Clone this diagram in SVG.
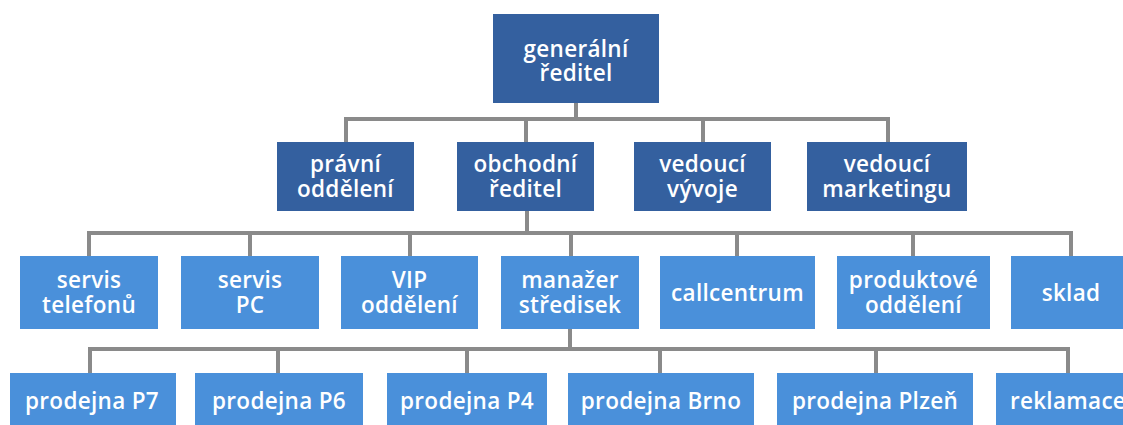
<svg xmlns="http://www.w3.org/2000/svg" width="1123" height="425" viewBox="0 0 1123 425">
<style>
.d{fill:#34609f}
.l{fill:#4a90da}
.t{fill:#ffffff;font-family:"Open Sans","DejaVu Sans",sans-serif;font-size:22.5px;font-weight:600;text-anchor:middle;letter-spacing:0.3px}
.c{fill:none;stroke:#8a8a8a;stroke-width:4}
</style>
<rect width="1123" height="425" fill="#ffffff"/>
<g id="connectors" class="c">
<path d="M576 103V119M346 142V119H888V142M526 119V142M703 119V142"/>
<path d="M527 211V233M89 256V233H1071V256M250 233V256M410 233V256M571 233V256M737 233V256M913 233V256"/>
<path d="M570 329V349M90 373V349H1068V373M278 349V373M467 349V373M660 349V373M876 349V373"/>
</g>
<g id="n-generalni"><rect class="d" x="493" y="14" width="166" height="89"/><text class="t"><tspan x="576" y="57">generální</tspan><tspan x="576" y="81">ředitel</tspan></text></g>
<g id="n-pravni"><rect class="d" x="277" y="142" width="137" height="69"/><text class="t"><tspan x="345.5" y="172">právní</tspan><tspan x="345.5" y="197">oddělení</tspan></text></g>
<g id="n-obchodni"><rect class="d" x="457" y="142" width="137" height="69"/><text class="t"><tspan x="525.5" y="172">obchodní</tspan><tspan x="525.5" y="197">ředitel</tspan></text></g>
<g id="n-vyvoj"><rect class="d" x="634" y="142" width="137" height="69"/><text class="t"><tspan x="702.5" y="172">vedoucí</tspan><tspan x="702.5" y="197">vývoje</tspan></text></g>
<g id="n-marketing"><rect class="d" x="807" y="142" width="160" height="69"/><text class="t"><tspan x="887" y="172">vedoucí</tspan><tspan x="887" y="197">marketingu</tspan></text></g>
<g id="n-servis-tel"><rect class="l" x="20" y="256" width="138" height="73"/><text class="t"><tspan x="89" y="288">servis</tspan><tspan x="89" y="313">telefonů</tspan></text></g>
<g id="n-servis-pc"><rect class="l" x="181" y="256" width="138" height="73"/><text class="t"><tspan x="250" y="288">servis</tspan><tspan x="250" y="313">PC</tspan></text></g>
<g id="n-vip"><rect class="l" x="341" y="256" width="137" height="73"/><text class="t"><tspan x="409.5" y="288">VIP</tspan><tspan x="409.5" y="313">oddělení</tspan></text></g>
<g id="n-manazer"><rect class="l" x="501" y="256" width="138" height="73"/><text class="t"><tspan x="570" y="288">manažer</tspan><tspan x="570" y="313">středisek</tspan></text></g>
<g id="n-callcentrum"><rect class="l" x="660" y="256" width="155" height="73"/><text class="t" x="737.5" y="301">callcentrum</text></g>
<g id="n-produktove"><rect class="l" x="837" y="256" width="153" height="73"/><text class="t"><tspan x="913.5" y="288">produktové</tspan><tspan x="913.5" y="313">oddělení</tspan></text></g>
<g id="n-sklad"><rect class="l" x="1011" y="256" width="120" height="73"/><text class="t" x="1071" y="301">sklad</text></g>
<g id="n-p7"><rect class="l" x="10" y="373" width="166" height="73"/><text class="t" x="92" y="409">prodejna P7</text></g>
<g id="n-p6"><rect class="l" x="195" y="373" width="168" height="73"/><text class="t" x="279" y="409">prodejna P6</text></g>
<g id="n-p4"><rect class="l" x="387" y="373" width="160" height="73"/><text class="t" x="467" y="409">prodejna P4</text></g>
<g id="n-brno"><rect class="l" x="568" y="373" width="186" height="73"/><text class="t" x="661" y="409">prodejna Brno</text></g>
<g id="n-plzen"><rect class="l" x="777" y="373" width="196" height="73"/><text class="t" x="875" y="409">prodejna Plzeň</text></g>
<g id="n-reklamace"><rect class="l" x="996" y="373" width="144" height="73"/><text class="t" x="1068" y="409">reklamace</text></g>
</svg>
